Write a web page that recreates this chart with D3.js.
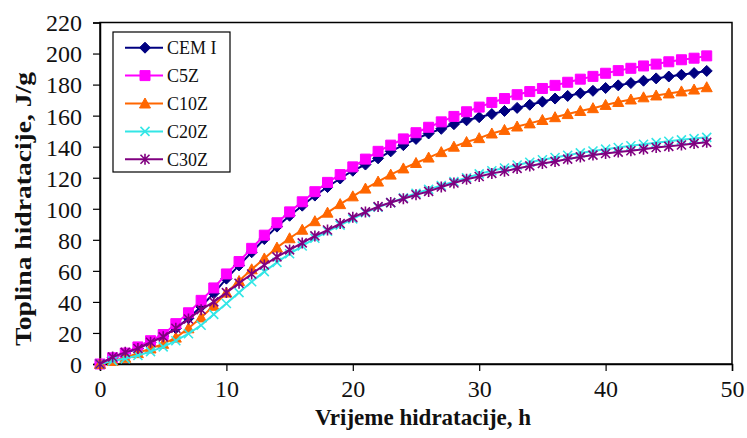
<!DOCTYPE html>
<html><head><meta charset="utf-8">
<script src="https://cdn.jsdelivr.net/npm/d3@7"></script>
<style>body{margin:0;background:#fff}svg{display:block}</style>
</head><body>
<svg id="chart" width="747" height="438"></svg>
<script>
// ---- data ----
const hours = [0,1,2,3,4,5,6,7,8,9,10,11,12,13,14,15,16,17,18,19,20,21,22,23,24,25,26,27,28,29,30,31,32,33,34,35,36,37,38,39,40,41,42,43,44,45,46,47,48];
const seriesNames = ["CEM I","C5Z","C10Z","C20Z","C30Z"];
const cemI = [0,4,7,10,14,18,23,29.5,37,45.5,55,63.5,72,80.5,88.5,95.5,102,108.5,114,119.5,124.5,128.5,132.5,137,141,145,148.5,151.5,154.5,157,159,161,163,165,167,169,171,172.7,174.4,176,177.8,179.5,181,182.5,184,185.2,186.3,187.4,188.8];
const c5z = [0,4,7,11,15,19,26,33,41,49,58,66,74.5,83,91,98,104.5,111,117,122,127,132,137,141,145,149,152.5,156,159.5,162.5,165.5,168.5,171,173.5,175.5,177.5,179.5,181.5,183.5,185.3,187.3,189,190.5,192,193.2,194.7,196,197,198.5];
const c10z = [0,2,4,7,10,13,17,23,30,37.5,46,53.5,61,68,75,81,86.5,92,97.5,103,108,113,117.5,122,126,129.5,133,136.5,140,143,145.5,148.5,150.8,153,155,157.2,159,161,163,164.8,166.9,168.8,170.4,171.8,173,174.3,175.6,176.8,178.3];
const c20z = [0,2,3.5,5.5,8,11,15,19.5,25,32,39,46,53,59.5,65.5,71,76,81,85.5,89.5,93.5,97.5,101,104,107,110,112.5,115,117.5,120,122.5,124.5,126.3,128.2,130,131.6,133,134.5,136,137.2,138.4,139.5,140.6,141.6,142.6,143.5,144.4,145.2,146];
const c30z = [0,4.5,7.5,10,14,17.5,23,29,35,40,46,52,58,63.8,69,73.5,78,82.5,86.3,90.5,94.5,98,101.4,104,106.5,109,111.2,114,116.6,119,120.8,122.8,124.2,126,127.6,129.2,130.5,132,133.4,134.6,135.6,136.5,137.4,138.4,139.5,140.2,141.1,142.1,142.8];
const xTicks = [0,10,20,30,40,50];
const yTicks = [0,20,40,60,80,100,120,140,160,180,200,220];
const xTitle = "Vrijeme hidratacije, h";
const yTitle = "Toplina hidratacije, J/g";

// ---- styles ----
const colors = ["#000080","#FF00FF","#FF6600","#33E6E6","#800080"];
const markers = ["diamond","square","triangle","x","star"];
const allValues = [cemI,c5z,c10z,c20z,c30z];

const svg = d3.select("#chart");
const x = d3.scaleLinear().domain([0,50]).range([100,732]);
const y = d3.scaleLinear().domain([0,220]).range([364,22.5]);

function markerPath(type){
  const p = d3.path();
  if(type==="diamond"){ const r=5.5; p.moveTo(0,-r);p.lineTo(r,0);p.lineTo(0,r);p.lineTo(-r,0);p.closePath(); }
  else if(type==="square"){ const r=5; p.rect(-r,-r,2*r,2*r); }
  else if(type==="triangle"){ p.moveTo(0,-5.5);p.lineTo(5.5,4.5);p.lineTo(-5.5,4.5);p.closePath(); }
  else if(type==="x"){ const r=4.5; p.moveTo(-r,-r);p.lineTo(r,r);p.moveTo(-r,r);p.lineTo(r,-r); }
  else if(type==="star"){ const r=4.5; p.moveTo(-r,-r);p.lineTo(r,r);p.moveTo(-r,r);p.lineTo(r,-r);p.moveTo(0,-5.5);p.lineTo(0,5.5); }
  return p.toString();
}
function drawMarker(g, type, color){
  const filled = (type==="diamond"||type==="square"||type==="triangle");
  g.append("path").attr("d", markerPath(type))
    .attr("fill", filled?color:"none")
    .attr("stroke", color)
    .attr("stroke-width", filled?1:1.6);
}

// frame
svg.append("rect").attr("x",x(0)).attr("y",y(220)).attr("width",x(50)-x(0)).attr("height",y(0)-y(220))
  .attr("fill","none").attr("stroke","#000").attr("stroke-width",1.5);

// axes
const yAxis = svg.append("g").attr("transform",`translate(${x(0)},0)`)
  .call(d3.axisLeft(y).tickValues(yTicks).tickSize(7).tickPadding(11));
const xAxis = svg.append("g").attr("transform",`translate(0,${y(0)})`)
  .call(d3.axisBottom(x).tickValues(xTicks).tickSize(7).tickPadding(9));
[yAxis,xAxis].forEach(a=>{
  a.select(".domain").attr("stroke","#000").attr("stroke-width",1.5);
  a.selectAll(".tick line").attr("stroke","#000").attr("stroke-width",1.2);
  a.selectAll(".tick text").attr("font-family","'Liberation Serif','Times New Roman',serif")
    .attr("font-size",24).attr("fill","#111");
});
yAxis.selectAll(".tick text").attr("dy","0.35em");
xAxis.selectAll(".tick text").attr("dy","0.71em");

// series
const line = d3.line().x((d,i)=>x(hours[i])).y(d=>y(d));
allValues.forEach((vals,si)=>{
  const g = svg.append("g");
  g.append("path").datum(vals).attr("d",line).attr("fill","none")
    .attr("stroke",colors[si]).attr("stroke-width",2);
  vals.forEach((v,i)=>{
    const mg = g.append("g").attr("transform",`translate(${x(hours[i])},${y(v)})`);
    drawMarker(mg, markers[si], colors[si]);
  });
});

// legend
const lg = svg.append("g");
lg.append("rect").attr("x",113).attr("y",32).attr("width",117).attr("height",140)
  .attr("fill","#fff").attr("stroke","#000").attr("stroke-width",1.2);
seriesNames.forEach((name,i)=>{
  const cy = 47.7 + i*27.9;
  lg.append("line").attr("x1",125).attr("x2",163).attr("y1",cy).attr("y2",cy)
    .attr("stroke",colors[i]).attr("stroke-width",2);
  drawMarker(lg.append("g").attr("transform",`translate(145,${cy})`), markers[i], colors[i]);
  lg.append("text").attr("x",167).attr("y",cy).attr("dy","0.35em")
    .attr("font-family","'Liberation Serif','Times New Roman',serif").attr("font-size",18)
    .attr("fill","#111").text(name);
});

// axis titles
svg.append("text").attr("transform","translate(423,425)")
  .attr("text-anchor","middle").attr("font-family","'Liberation Serif','Times New Roman',serif")
  .attr("font-weight","bold").attr("font-size",23).attr("fill","#111").text(xTitle);
svg.append("text").attr("transform","translate(31,209) scale(1,1.2) rotate(-90)")
  .attr("text-anchor","middle").attr("font-family","'Liberation Serif','Times New Roman',serif")
  .attr("font-weight","bold").attr("font-size",23).attr("fill","#111").text(yTitle);
</script>
</body></html>
